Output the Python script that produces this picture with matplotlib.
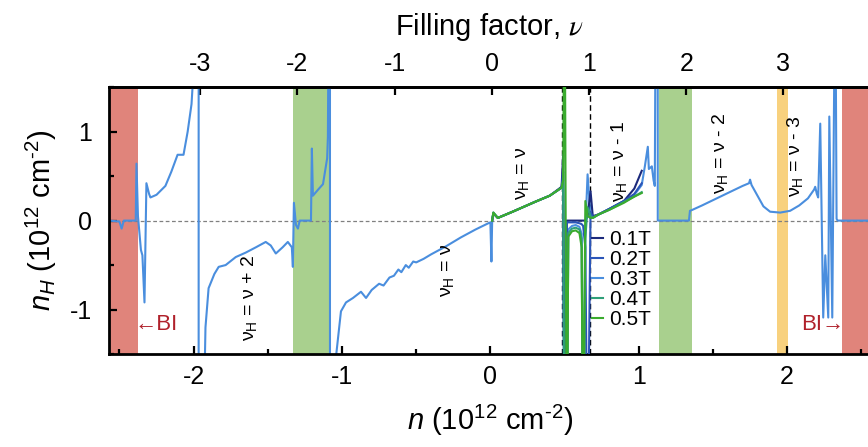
import matplotlib.pyplot as plt
import matplotlib.ticker as mticker

# Hall density n_H vs carrier density n (10^12 cm^-2)
# 0.3T trace covers the whole gate range
n_03 = [-2.57, -2.50, -2.485, -2.48, -2.47, -2.39, -2.385, -2.375, -2.355, -2.345,
        -2.331, -2.318, -2.30, -2.291, -2.25, -2.19, -2.15, -2.108, -2.068, -2.04,
        -2.014, -2.00, -1.985, -1.966, -1.966, -1.94, -1.92, -1.899, -1.86, -1.831,
        -1.784, -1.716, -1.649, -1.58, -1.514, -1.48, -1.446, -1.40, -1.365, -1.338,
        -1.331, -1.324, -1.31, -1.297, -1.285, -1.209, -1.203, -1.196, -1.16, -1.128,
        -1.10, -1.095, -1.088, -1.081, -1.081, -1.045, -1.007, -0.973, -0.926, -0.872,
        -0.838, -0.80, -0.75, -0.72, -0.68, -0.65, -0.62, -0.60, -0.57, -0.55,
        -0.52, -0.50, -0.45, -0.40, -0.30, -0.20, -0.10, -0.014, 0.0, 0.007,
        0.012, 0.02, 0.05, 0.15, 0.30, 0.40, 0.48, 0.49, 0.50, 0.515,
        0.525, 0.55, 0.575, 0.60, 0.615, 0.625, 0.64, 0.655, 0.675, 0.69,
        0.73, 0.80, 0.90, 0.97, 1.02, 1.041, 1.061, 1.068, 1.088, 1.10,
        1.108, 1.115, 1.128, 1.128, 1.338, 1.345, 1.36, 1.426, 1.50, 1.60,
        1.70, 1.743, 1.750, 1.76, 1.80, 1.84, 1.885, 1.953, 2.02, 2.081,
        2.14, 2.182, 2.189, 2.20, 2.209, 2.223, 2.243, 2.257, 2.277, 2.284,
        2.304, 2.324, 2.333, 2.34, 2.57]
nh_03 = [0.00, -0.01, -0.09, -0.06, 0.00, 0.00, 0.64, 0.05, -0.33, -0.39,
         -0.92, 0.42, 0.30, 0.26, 0.29, 0.39, 0.55, 0.74, 0.74, 1.00,
         1.31, 1.70, 3.00, 3.00, -3.00, -3.00, -1.20, -0.76, -0.60, -0.52,
         -0.50, -0.41, -0.36, -0.30, -0.24, -0.28, -0.37, -0.30, -0.24, -0.30,
         -0.52, 0.20, -0.05, -0.09, 0.00, 0.00, 0.81, 0.28, 0.35, 0.41,
         0.70, 0.94, 3.00, 3.00, -3.00, -1.60, -1.02, -0.92, -0.87, -0.80,
         -0.87, -0.78, -0.71, -0.73, -0.64, -0.62, -0.55, -0.58, -0.50, -0.53,
         -0.46, -0.47, -0.43, -0.38, -0.29, -0.19, -0.10, -0.03, -0.02, -0.46,
         0.00, 0.09, 0.03, 0.10, 0.21, 0.28, 0.37, 0.55, -3.00, -3.00,
         -0.10, -0.06, -0.05, -0.07, -0.15, -3.00, -0.10, 0.52, 0.05, 0.03,
         0.07, 0.13, 0.22, 0.29, 0.40, 0.61, 0.83, 0.58, 0.61, 0.45,
         0.39, 3.00, 3.00, 0.00, 0.00, 0.11, 0.12, 0.17, 0.23, 0.31,
         0.39, 0.42, 0.46, 0.40, 0.28, 0.16, 0.10, 0.09, 0.11, 0.17,
         0.25, 0.35, 0.38, 0.30, 0.26, 1.09, -1.09, -0.39, -1.09, 1.17,
         -1.09, 3.00, 0.02, 0.00, 0.00]

# other fields, measured only around 0 < n < 1
n_mid = [0.012, 0.02, 0.05, 0.15, 0.30, 0.40, 0.48, 0.49, 0.50, 0.515,
         0.525, 0.55, 0.575, 0.60, 0.615, 0.625, 0.64, 0.655, 0.675, 0.69,
         0.73, 0.80, 0.90, 0.97, 1.02]
nh_01 = [0.00, 0.08, 0.03, 0.10, 0.21, 0.28, 0.38, 0.74, -3.00, 0.00,
         0.00, 0.00, 0.00, 0.00, 0.00, 0.00, 0.00, 0.05, 0.33, 0.05,
         0.07, 0.13, 0.22, 0.36, 0.56]
nh_02 = [0.00, 0.08, 0.03, 0.10, 0.21, 0.28, 0.37, 0.55, -3.00, -0.02,
         -0.02, -0.02, -0.02, -0.03, -0.04, -0.06, -0.30, -3.00, 0.10, 0.04,
         0.07, 0.13, 0.22, 0.30, 0.42]
nh_04 = [0.00, 0.09, 0.03, 0.10, 0.21, 0.28, 0.37, 0.45, -3.00, -3.00,
         -0.14, -0.09, -0.08, -0.10, -0.20, -3.00, -0.20, 0.15, 0.05, 0.03,
         0.07, 0.12, 0.21, 0.27, 0.32]
nh_05 = [0.00, 0.09, 0.03, 0.10, 0.21, 0.28, 0.37, 0.45, 3.00, -3.00,
         -0.18, -0.12, -0.11, -0.14, -0.30, -3.00, 0.22, 0.05, 0.03, 0.03,
         0.07, 0.12, 0.20, 0.27, 0.31]

fields = ['0.1T', '0.2T', '0.3T', '0.4T', '0.5T']
field_colors = ['#1c2a7c', '#2b55b8', '#4a8ede', '#2f9f78', '#3aab2e']

# shaded gaps: band insulator (red), ν=±2 (green), ν=3 (yellow)
band_lo = [-2.60, -1.331, 1.135, 1.932, 2.372]
band_hi = [-2.378, -1.081, 1.358, 2.007, 2.60]
band_colors = ['#e0847b', '#a9d08e', '#a9d08e', '#f8d17e', '#e0847b']

# dashed markers around ν = 1
dash_n = [0.486, 0.67]

# ν = (n - n0) / n1
nu_ticks = [-3, -2, -1, 0, 1, 2, 3]
n_per_nu = 0.655
n_offset = 0.01

plt.rcParams['font.family'] = ['Liberation Sans', 'DejaVu Sans']
plt.rcParams['mathtext.fontset'] = 'custom'
plt.rcParams['mathtext.rm'] = 'Liberation Sans'
plt.rcParams['mathtext.it'] = 'Liberation Sans:italic'

fig = plt.figure(figsize=(8.68, 4.47), dpi=100)
ax = fig.add_axes([0.1256, 0.208, 0.877, 0.597])

for lo, hi, c in zip(band_lo, band_hi, band_colors):
    ax.axvspan(lo, hi, color=c, lw=0, zorder=0)

ax.axhline(0, color='#808080', lw=0.9, ls=(0, (3, 2)), zorder=1)
for xd in dash_n:
    ax.axvline(xd, color='black', lw=1.0, ls=(0, (4, 2.5)), zorder=1)

curves = [nh_01, nh_02, None, nh_04, nh_05]
handles = []
for lab, col, nh in zip(fields, field_colors, curves):
    if nh is None:
        h, = ax.plot(n_03, nh_03, color=col, lw=1.5, label=lab, zorder=2)
    else:
        h, = ax.plot(n_mid, nh, color=col, lw=1.5, label=lab, zorder=3)
    handles.append(h)

ax.set_xlim(-2.57, 2.56)
ax.set_ylim(-1.5, 1.5)

ax.xaxis.set_major_locator(mticker.MultipleLocator(1))
ax.xaxis.set_minor_locator(mticker.MultipleLocator(0.5))
ax.yaxis.set_major_locator(mticker.MultipleLocator(1))
ax.yaxis.set_minor_locator(mticker.MultipleLocator(0.5))
ax.xaxis.set_major_formatter(mticker.FuncFormatter(lambda v, p: f'{v:.0f}'))
ax.yaxis.set_major_formatter(mticker.FuncFormatter(lambda v, p: f'{v:.0f}'))
ax.tick_params(which='both', direction='in', labelsize=18, width=1.6)
ax.tick_params(which='major', length=6, pad=8)
ax.tick_params(which='minor', length=3.5)
ax.tick_params(axis='y', pad=12)
for sp in ax.spines.values():
    sp.set_linewidth(2)

ax.set_xlabel(r'$n$ (10$^{12}$ cm$^{\text{-}2}$)', fontsize=21, labelpad=10)
ax.set_ylabel(r'$n_H$ (10$^{12}$ cm$^{\text{-}2}$)', fontsize=21, labelpad=8)

secax = ax.secondary_xaxis('top', functions=(lambda n: (n - n_offset) / n_per_nu,
                                             lambda v: v * n_per_nu + n_offset))
secax.set_xticks(nu_ticks)
secax.xaxis.set_major_formatter(mticker.FuncFormatter(lambda v, p: f'{v:.0f}'))
secax.tick_params(direction='in', length=6, width=1.6, labelsize=18, pad=8)
secax.spines['top'].set_linewidth(2)
secax.set_xlabel('Filling factor, $\\nu$', fontsize=21, labelpad=12,
                 math_fontfamily='stix')

# Hall filling labels
lab_n = [-1.63, -0.29, 0.216, 0.87, 1.55, 2.05]
lab_y = [-0.87, -0.56, 0.53, 0.67, 0.76, 0.72]
lab_txt = ['ν$_\\mathregular{H}$ = ν + 2', 'ν$_\\mathregular{H}$ = ν', 'ν$_\\mathregular{H}$ = ν',
           'ν$_\\mathregular{H}$ = ν - 1', 'ν$_\\mathregular{H}$ = ν - 2', 'ν$_\\mathregular{H}$ = ν - 3']
for xl, yl, t in zip(lab_n, lab_y, lab_txt):
    ax.text(xl, yl, t, rotation=90, ha='center', va='center', fontsize=14)

ax.text(-2.25, -1.17, '←BI', color='#b0212b', fontsize=16, ha='center', va='center')
ax.text(2.24, -1.17, 'BI→', color='#b0212b', fontsize=16, ha='center', va='center')

ax.legend(handles=handles, loc='upper left', bbox_to_anchor=(0.635, 0.465), frameon=False,
          fontsize=15, handlelength=0.5, handletextpad=0.3, labelspacing=0.05,
          borderaxespad=0, borderpad=0)

fig.savefig('out.png', dpi=100)
